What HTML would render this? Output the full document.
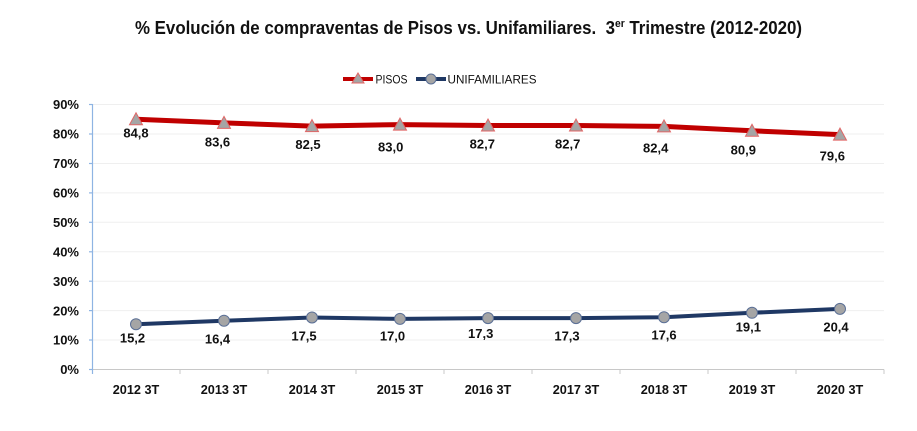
<!DOCTYPE html>
<html>
<head>
<meta charset="utf-8">
<style>
html,body{margin:0;padding:0;background:#fff;}
svg{display:block;}
text{font-family:"Liberation Sans",Arial,sans-serif;fill:#111;}
</style>
</head>
<body>
<svg width="917" height="431" viewBox="0 0 917 431" xmlns="http://www.w3.org/2000/svg">
<rect width="917" height="431" fill="#fff"/>
<!-- Title -->
<text x="135" y="34" font-size="18" font-weight="bold" textLength="667" lengthAdjust="spacingAndGlyphs">% Evolución de compraventas de Pisos vs. Unifamiliares.&#160; 3<tspan font-size="11" dy="-7">er</tspan><tspan dy="7"> Trimestre (2012-2020)</tspan></text>

<!-- Legend -->
<line x1="343" y1="79" x2="373" y2="79" stroke="#c00000" stroke-width="4"/>
<polygon points="358,73 364,83 352,83" fill="#a5a5a5" stroke="#e06666" stroke-width="1"/>
<text x="375.5" y="83.5" font-size="12" textLength="32" lengthAdjust="spacingAndGlyphs" fill="#222">PISOS</text>
<line x1="416" y1="79" x2="446" y2="79" stroke="#1f3864" stroke-width="4"/>
<circle cx="431" cy="79" r="5" fill="#a5a5a5" stroke="#5a6f96" stroke-width="1"/>
<text x="447.5" y="83.5" font-size="12" textLength="89" lengthAdjust="spacingAndGlyphs" fill="#222">UNIFAMILIARES</text>

<!-- Gridlines -->
<g stroke="#efefef" stroke-width="1">
<line x1="92" y1="104.5" x2="884" y2="104.5"/>
<line x1="92" y1="134" x2="884" y2="134"/>
<line x1="92" y1="163.5" x2="884" y2="163.5"/>
<line x1="92" y1="192.9" x2="884" y2="192.9"/>
<line x1="92" y1="222.3" x2="884" y2="222.3"/>
<line x1="92" y1="251.8" x2="884" y2="251.8"/>
<line x1="92" y1="281.2" x2="884" y2="281.2"/>
<line x1="92" y1="310.6" x2="884" y2="310.6"/>
<line x1="92" y1="340" x2="884" y2="340"/>
</g>

<!-- X axis -->
<g stroke="#c8c8c8" stroke-width="1">
<line x1="92" y1="369.5" x2="884" y2="369.5"/>
<line x1="180" y1="369.5" x2="180" y2="374"/>
<line x1="268" y1="369.5" x2="268" y2="374"/>
<line x1="356" y1="369.5" x2="356" y2="374"/>
<line x1="444" y1="369.5" x2="444" y2="374"/>
<line x1="532" y1="369.5" x2="532" y2="374"/>
<line x1="620" y1="369.5" x2="620" y2="374"/>
<line x1="708" y1="369.5" x2="708" y2="374"/>
<line x1="796" y1="369.5" x2="796" y2="374"/>
<line x1="884" y1="369.5" x2="884" y2="374"/>
</g>
<!-- Y axis -->
<g stroke="#8eb4e3" stroke-width="1.2">
<line x1="92.5" y1="104" x2="92.5" y2="374"/>
<line x1="89" y1="104.5" x2="92.5" y2="104.5"/>
<line x1="89" y1="134" x2="92.5" y2="134"/>
<line x1="89" y1="163.5" x2="92.5" y2="163.5"/>
<line x1="89" y1="192.9" x2="92.5" y2="192.9"/>
<line x1="89" y1="222.3" x2="92.5" y2="222.3"/>
<line x1="89" y1="251.8" x2="92.5" y2="251.8"/>
<line x1="89" y1="281.2" x2="92.5" y2="281.2"/>
<line x1="89" y1="310.6" x2="92.5" y2="310.6"/>
<line x1="89" y1="340" x2="92.5" y2="340"/>
<line x1="89" y1="369.5" x2="92.5" y2="369.5"/>
</g>

<!-- Y labels -->
<g font-size="13" font-weight="bold" text-anchor="end">
<text x="79" y="109.2">90%</text>
<text x="79" y="138.7">80%</text>
<text x="79" y="168.2">70%</text>
<text x="79" y="197.6">60%</text>
<text x="79" y="227">50%</text>
<text x="79" y="256.5">40%</text>
<text x="79" y="285.9">30%</text>
<text x="79" y="315.3">20%</text>
<text x="79" y="344.7">10%</text>
<text x="79" y="374.2">0%</text>
</g>

<!-- X labels -->
<g font-size="12.7" font-weight="bold" text-anchor="middle">
<text x="136" y="394">2012 3T</text>
<text x="224" y="394">2013 3T</text>
<text x="312" y="394">2014 3T</text>
<text x="400" y="394">2015 3T</text>
<text x="488" y="394">2016 3T</text>
<text x="576" y="394">2017 3T</text>
<text x="664" y="394">2018 3T</text>
<text x="752" y="394">2019 3T</text>
<text x="840" y="394">2020 3T</text>
</g>

<!-- PISOS series -->
<polyline points="136,119.3 224,122.9 312,126.1 400,124.6 488,125.5 576,125.5 664,126.4 752,130.8 840,134.6" fill="none" stroke="#c00000" stroke-width="5" stroke-linejoin="round"/>
<g fill="#a5a5a5" stroke="#e06666" stroke-width="1">
<polygon points="136,112.8 142.5,124.8 129.5,124.8"/>
<polygon points="224,116.4 230.5,128.4 217.5,128.4"/>
<polygon points="312,119.6 318.5,131.6 305.5,131.6"/>
<polygon points="400,118.1 406.5,130.1 393.5,130.1"/>
<polygon points="488,119 494.5,131 481.5,131"/>
<polygon points="576,119 582.5,131 569.5,131"/>
<polygon points="664,119.9 670.5,131.9 657.5,131.9"/>
<polygon points="752,124.3 758.5,136.3 745.5,136.3"/>
<polygon points="840,128.1 846.5,140.1 833.5,140.1"/>
</g>

<!-- UNIF series -->
<polyline points="136,324.2 224,320.7 312,317.5 400,318.9 488,318.1 576,318.1 664,317.2 752,312.8 840,308.9" fill="none" stroke="#1f3864" stroke-width="4" stroke-linejoin="round"/>
<g fill="#a5a5a5" stroke="#5a6f96" stroke-width="1">
<circle cx="136" cy="324.2" r="5.5"/>
<circle cx="224" cy="320.7" r="5.5"/>
<circle cx="312" cy="317.5" r="5.5"/>
<circle cx="400" cy="318.9" r="5.5"/>
<circle cx="488" cy="318.1" r="5.5"/>
<circle cx="576" cy="318.1" r="5.5"/>
<circle cx="664" cy="317.2" r="5.5"/>
<circle cx="752" cy="312.8" r="5.5"/>
<circle cx="840" cy="308.9" r="5.5"/>
</g>

<!-- Data labels -->
<g font-size="13" font-weight="bold" text-anchor="middle">
<text x="136" y="137.4">84,8</text>
<text x="217.5" y="146.4">83,6</text>
<text x="308" y="149">82,5</text>
<text x="390.7" y="151.7">83,0</text>
<text x="482.3" y="148.4">82,7</text>
<text x="567.7" y="148.4">82,7</text>
<text x="655.7" y="152.4">82,4</text>
<text x="743.3" y="154.7">80,9</text>
<text x="832.3" y="160.4">79,6</text>

<text x="132.5" y="342.4">15,2</text>
<text x="217.5" y="343.7">16,4</text>
<text x="304" y="340.4">17,5</text>
<text x="392.5" y="340.4">17,0</text>
<text x="480.7" y="338">17,3</text>
<text x="567" y="340.7">17,3</text>
<text x="664" y="339.4">17,6</text>
<text x="748.3" y="331.4">19,1</text>
<text x="836" y="331.4">20,4</text>
</g>
</svg>
</body>
</html>
